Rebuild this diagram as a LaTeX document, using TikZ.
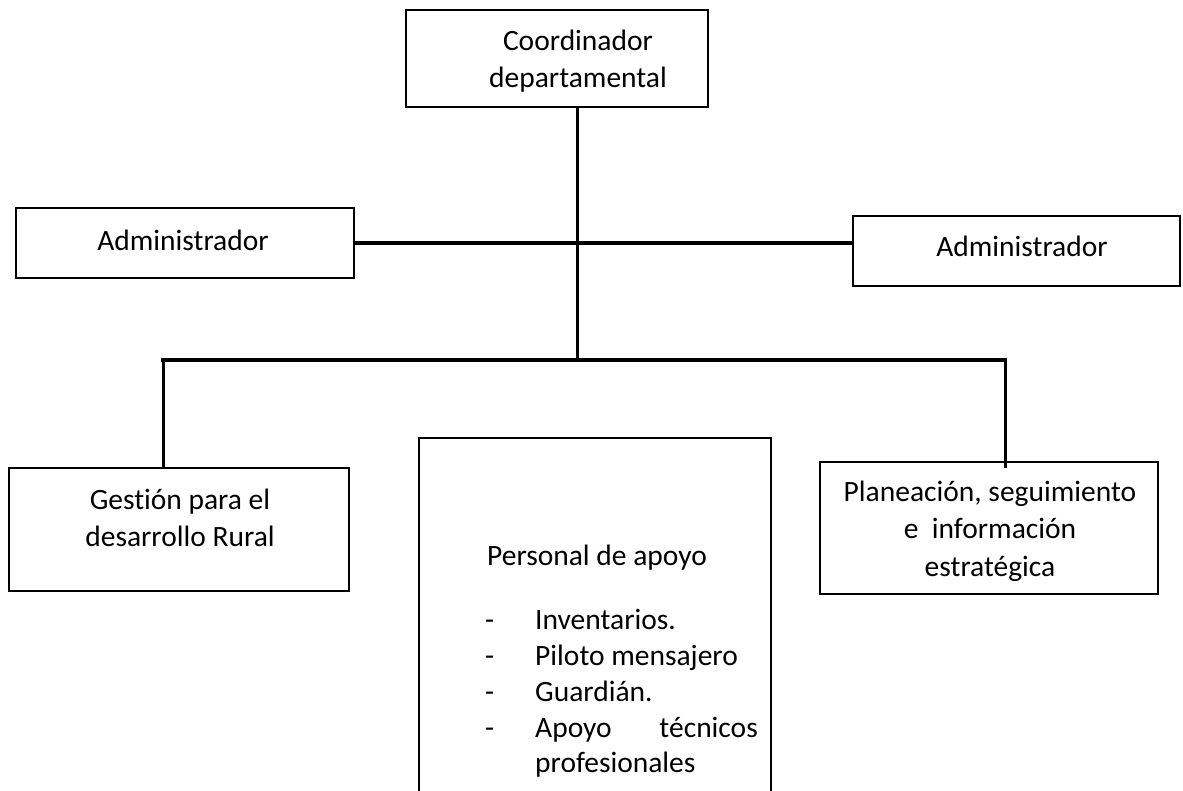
\documentclass[tikz,border=0pt]{standalone}
\usepackage{fontspec}
\setmainfont[Ligatures={NoCommon}]{Carlito}
\begin{document}
\begin{tikzpicture}[x=1pt,y=-1pt,
  box/.style={draw=black,line width=1.6pt,inner sep=0pt},
  txt/.style={font=\fontsize{29.5}{37.5}\selectfont,align=center,inner sep=0pt},
  item/.style={font=\fontsize{29.5}{37.5}\selectfont,inner sep=0pt,anchor=base west},
  thickline/.style={line width=4.4pt},
  midline/.style={line width=3pt}]
\useasboundingbox (0,0) rectangle (1183,790);
\clip (0,0) rectangle (1183,790);
% boxes
\node[box,minimum width=302,minimum height=97] (coord) at (557,58.5) {};
\node[txt] (coordT) at (578,61) {Coordinador\\departamental};
\node[box,minimum width=338,minimum height=70] (adml) at (185,243) {};
\node[txt] (admlT) at (183,240) {Administrador};
\node[box,minimum width=327,minimum height=70] (admr) at (1016.5,251) {};
\node[txt] (admrT) at (1022,246) {Administrador};
\node[box,minimum width=340,minimum height=123] (gest) at (179,529.5) {};
\node[txt] (gestT) at (180,518) {Gestión para el\\desarrollo Rural};
\node[box,minimum width=338,minimum height=132] (plan) at (989,528) {};
\node[txt] (planT) at (990,531) {Planeación, seguimiento\\e\ \ información\\estratégica};
\node[box,minimum width=352,minimum height=400,anchor=north] (pers) at (595,437) {};
\node[txt] (persT) at (597,558) {Personal de apoyo};
\node[item] (d1) at (485,629) {-};
\node[item] (i1) at (535,629) {Inventarios.};
\node[item] (d2) at (485,665) {-};
\node[item] (i2) at (535,665) {Piloto mensajero};
\node[item] (d3) at (485,701) {-};
\node[item] (i3) at (535,701) {Guardián.};
\node[item] (d4) at (485,737) {-};
\node[item] (i4) at (535,737) {Apoyo};
\node[item,anchor=base east] (i4b) at (758,737) {técnicos};
\node[item] (i5) at (535,772) {profesionales};
% connectors
\coordinate (busc) at (577,360);
\coordinate (busl) at (163,360);
\coordinate (busr) at (1005,360);
\coordinate (planin) at (1005,468);
\draw[midline] (coord.south -| busc) -- (busc);
\draw[thickline] (adml.east) -- (adml.east -| admr.west);
\draw[thickline,line cap=rect] (busl) -- (busr);
\draw[midline] (busl) -- (busl |- gest.north);
\draw[midline] (busr) -- (planin);
\end{tikzpicture}
\end{document}
